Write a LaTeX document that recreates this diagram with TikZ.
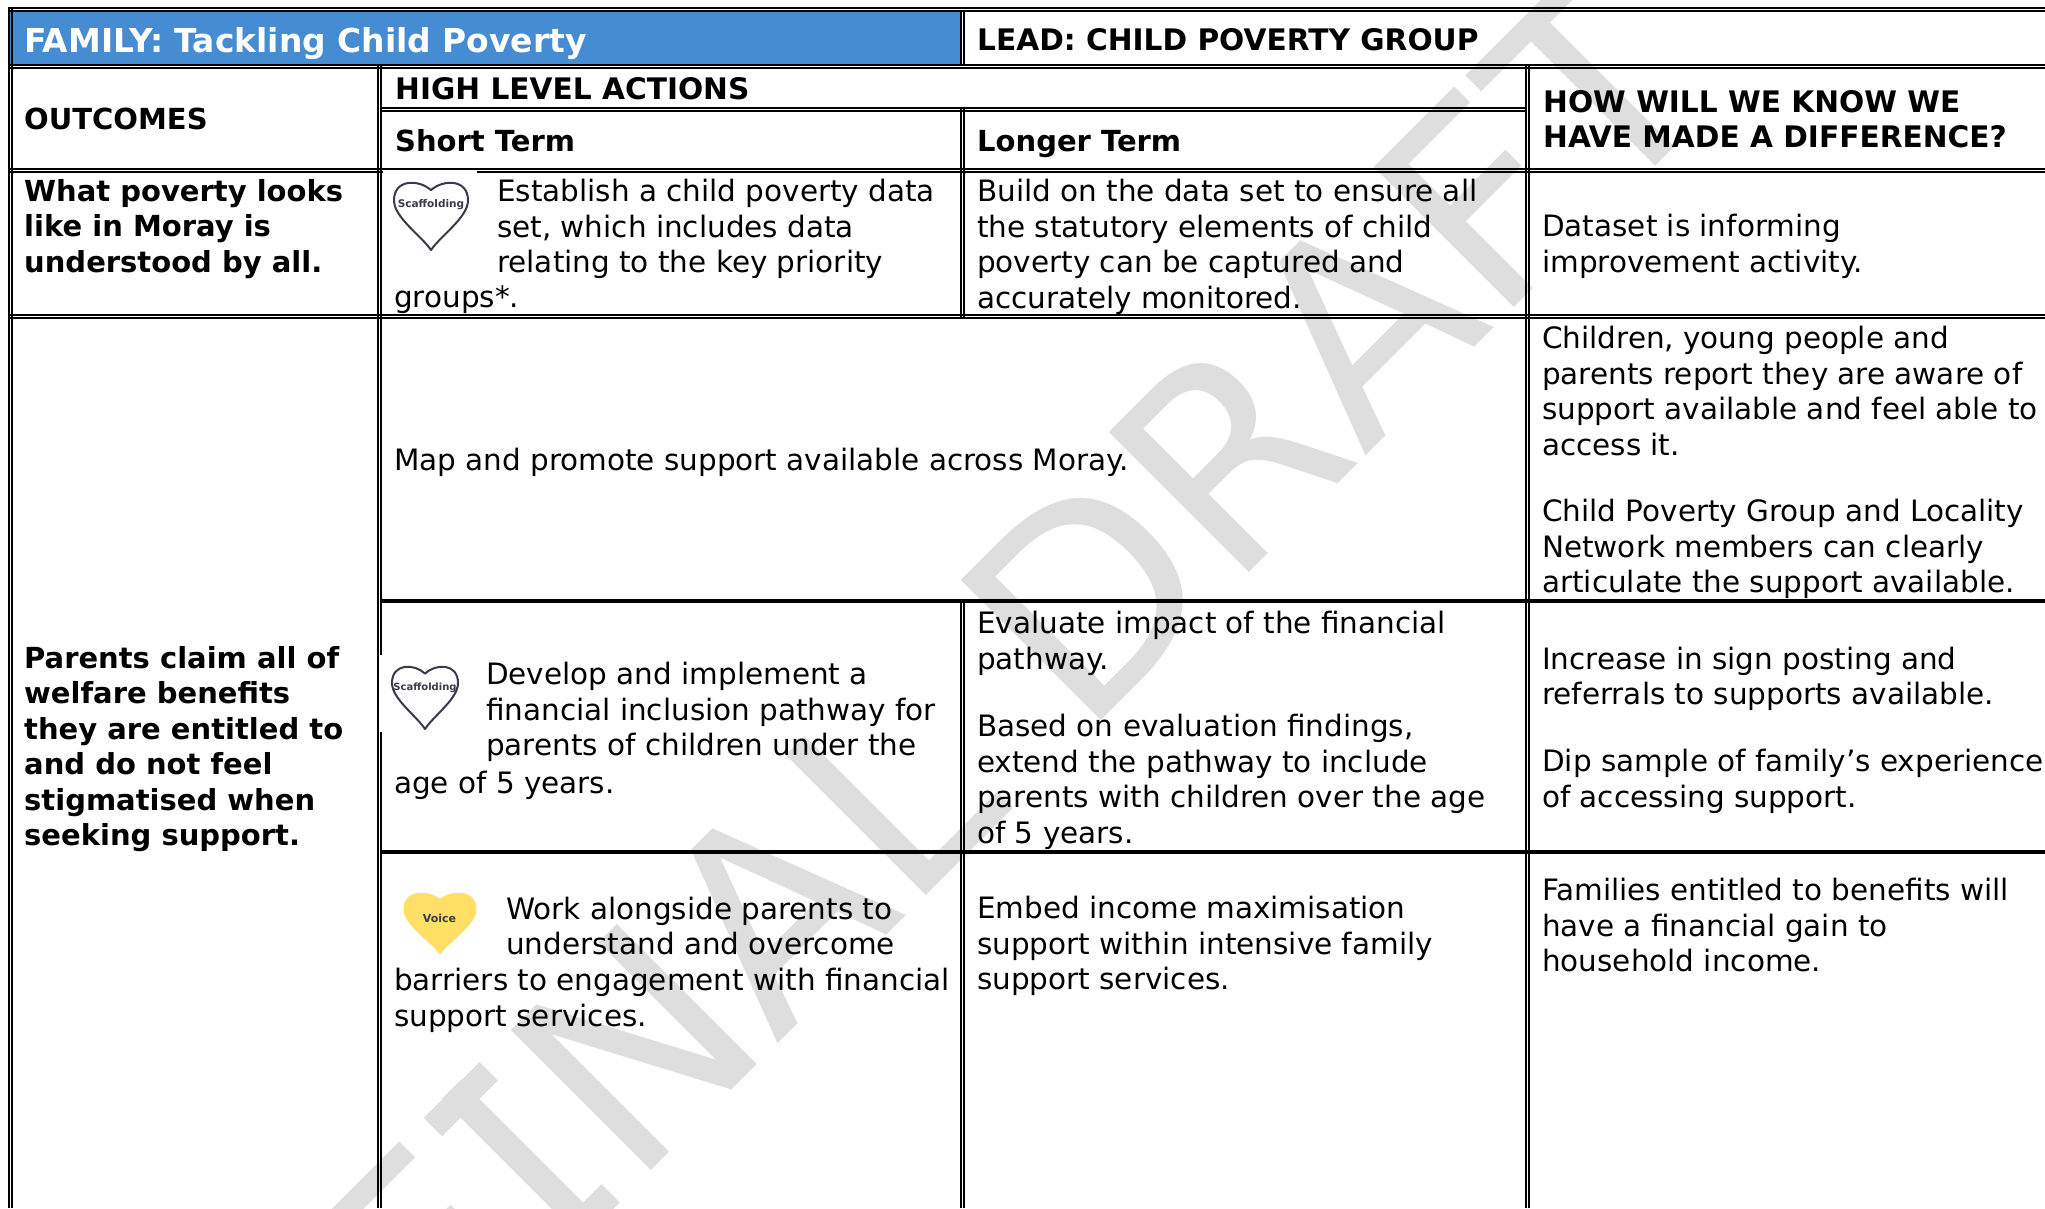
\documentclass[tikz,border=0pt]{standalone}
\usepackage{fontspec}
\setmainfont{DejaVu Sans}
\newfontfamily\wmfont[Kerning=Off]{DejaVu Sans}
\definecolor{hdrblue}{HTML}{458CD2}
\definecolor{wmgray}{HTML}{DEDEDE}
\definecolor{hearty}{HTML}{FFDF66}
\definecolor{heartl}{HTML}{3A3A4A}
\newcommand{\fs}{\rule{0pt}{22pt}}
\newcommand{\wmI}{\makebox[.421em][c]{\makebox[0pt][c]{I}\makebox[0pt][c]{\rule{.29em}{.095em}}\makebox[0pt][c]{\raisebox{.634em}{\rule{.29em}{.095em}}}}}
\newcommand{\heart}[7]{% cx top w h fill draw name
  \path[fill=#5,draw=#6,line width=2pt,line join=round]
   (#1,#2+#4*0.12) .. controls (#1-#3*0.16,#2-#4*0.04) and (#1-#3*0.5,#2-#4*0.05) .. (#1-#3*0.5,#2+#4*0.27)
   .. controls (#1-#3*0.5,#2+#4*0.52) and (#1-#3*0.14,#2+#4*0.78) .. (#1,#2+#4)
   .. controls (#1+#3*0.14,#2+#4*0.78) and (#1+#3*0.5,#2+#4*0.52) .. (#1+#3*0.5,#2+#4*0.27)
   .. controls (#1+#3*0.5,#2-#4*0.05) and (#1+#3*0.16,#2-#4*0.04) .. (#1,#2+#4*0.12) -- cycle;}
\tikzset{
  txt/.style={anchor=north west,inner sep=0pt,align=left,font=\fontsize{29.45}{35.5}\selectfont},
  btxt/.style={txt,font=\fontsize{29}{35.5}\selectfont\bfseries},
  ctxt/.style={txt,font=\fontsize{29.65}{35.5}\selectfont\bfseries},
  dbl/.style={draw=black,line width=2pt},
  thk/.style={draw=black,line width=4.5pt},
}
\begin{document}
\begin{tikzpicture}[x=1pt,y=-1pt]
\useasboundingbox (0,0) rectangle (2045,1208);
\fill[white] (0,0) rectangle (2045,1208);
\begin{scope}
\clip (0,0) rectangle (2045,1208);
\node[rotate=45,anchor=base west,inner sep=0pt,text=wmgray,font=\wmfont\fontsize{272}{272}\selectfont] (wm) at (440.6,1381.5) {F\wmI NAL\hspace{.352em}DRAFT};
\end{scope}
\fill[hdrblue] (10,11) rectangle (960,64);
% horizontal double rules
\foreach \y/\a/\b in {8/8/2045,11/8/2045,65/8/2045,68/8/2045,108/380/1526,111/380/1526,169/8/2045,172/8/2045,315/8/2045,318/8/2045}
  \draw[dbl] (\a,\y) -- (\b,\y);
\draw[thk] (380,601) -- (2045,601);
\draw[thk] (380,852) -- (2045,852);
% vertical double rules
\foreach \x/\a/\b in {9/8/1208,12/8/1208,378/65/1208,381/65/1208,961/11/64,964/11/64,961/108/318,964/108/318,961/601/1208,964/601/1208,1526/65/318,1529/65/318,1526/318/1208,1529/318/1208}
  \draw[dbl] (\x,\a) -- (\x,\b);
% icon backgrounds and hearts
\fill[white] (383,170.5) rectangle (477,260);
\fill[white] (379.5,655) rectangle (470,732);
\heart{431}{182}{74}{68}{white}{heartl}{h1}
\heart{425}{666}{66}{63}{white}{heartl}{h2}
\heart{440}{893}{71}{60}{hearty}{hearty}{h3}
\node[inner sep=0pt,font=\bfseries\fontsize{10.5}{12}\selectfont,text=heartl] (h1t) at (431,205) {Scaffolding};
\node[inner sep=0pt,font=\bfseries\fontsize{10}{12}\selectfont,text=heartl] (h2t) at (425,688) {Scaffolding};
\node[inner sep=0pt,font=\bfseries\fontsize{11}{12}\selectfont,text=heartl] (h3t) at (439.5,918) {Voice};
% texts
\node[txt,font=\fontsize{32.9}{35.5}\selectfont\bfseries,text=white] (family) at (24,27) {\fs FAMILY: Tackling Child Poverty};
\node[ctxt] (lead) at (977,28) {\fs LEAD: CHILD POVERTY GROUP};
\node[btxt] (outc) at (24,107) {\fs OUTCOMES};
\node[ctxt] (hla) at (395,77) {\fs HIGH LEVEL ACTIONS};
\node[btxt] (st) at (395,129) {\fs Short Term};
\node[btxt] (lt) at (977,129) {\fs Longer Term};
\node[ctxt] (how) at (1543,90) {\fs HOW WILL WE KNOW WE\\HAVE MADE A DIFFERENCE?};
\node[btxt] (o1) at (24,179) {\fs What poverty looks\\like in Moray is\\understood by all.};
\node[txt] (s1) at (497,179) {\fs Establish a child poverty data\\set, which includes data\\relating to the key priority};
\node[txt] (s1b) at (394,285.5) {\fs groups*.};
\node[txt] (l1) at (977,179) {\fs Build on the data set to ensure all\\the statutory elements of child\\poverty can be captured and\\accurately monitored.};
\node[txt] (r1) at (1542,214) {\fs Dataset is informing\\improvement activity.};
\node[btxt] (o2) at (24,646) {\fs Parents claim all of\\welfare benefits\\they are entitled to\\and do not feel\\stigmatised when\\seeking support.};
\node[txt] (m2) at (394,448) {\fs Map and promote support available across Moray.};
\node[txt] (r2a) at (1542,326) {\fs Children, young people and\\parents report they are aware of\\support available and feel able to\\access it.};
\node[txt] (r2b) at (1542,499) {\fs Child Poverty Group and Locality\\Network members can clearly\\articulate the support available.};
\node[txt] (s3) at (486,662) {\fs Develop and implement a\\financial inclusion pathway for\\parents of children under the};
\node[txt] (s3b) at (394,770.5) {\fs age of 5 years.};
\node[txt] (l3a) at (977,611) {\fs Evaluate impact of the financial\\pathway.};
\node[txt] (l3b) at (977,714) {\fs Based on evaluation findings,\\extend the pathway to include\\parents with children over the age\\of 5 years.};
\node[txt] (r3a) at (1542,646.5) {\fs Increase in sign posting and\\referrals to supports available.};
\node[txt] (r3b) at (1542,749) {\fs Dip sample of family’s experience\\of accessing support.};
\node[txt] (s4) at (506,896.5) {\fs Work alongside parents to\\understand and overcome};
\node[txt] (s4b) at (394,968) {\fs barriers to engagement with financial\\support services.};
\node[txt] (l4) at (977,896) {\fs Embed income maximisation\\support within intensive family\\support services.};
\node[txt] (r4) at (1542,878) {\fs Families entitled to benefits will\\have a financial gain to\\household income.};
\end{tikzpicture}
\end{document}
